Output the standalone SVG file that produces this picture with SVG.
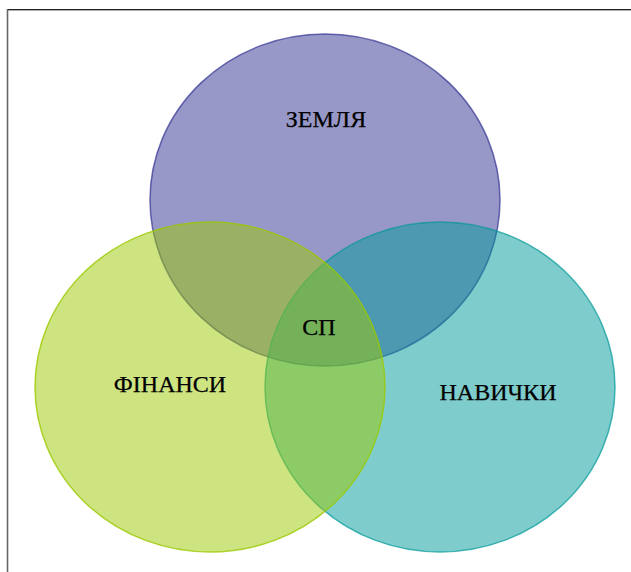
<svg xmlns="http://www.w3.org/2000/svg" width="631" height="572" viewBox="0 0 631 572">
<style>
.lbl{font-family:"Liberation Serif","Times New Roman",serif;font-size:24px;fill:#000;text-anchor:middle;stroke:#000;stroke-width:0.25}
</style>
<rect width="631" height="572" fill="#fff"/>
<g id="frame">
<line x1="7" y1="9.5" x2="631" y2="9.5" stroke="#222" stroke-width="1.2"/>
<line x1="7" y1="10.5" x2="631" y2="10.5" stroke="#999" stroke-width="0.8"/>
<line x1="7.5" y1="9" x2="7.5" y2="572" stroke="#666" stroke-width="1.6"/>
</g>
<g id="zemlia">
<ellipse cx="325" cy="200" rx="175" ry="166" fill="#313191" fill-opacity="0.5" stroke="#313191" stroke-opacity="0.7" stroke-width="1.5"/>
<text class="lbl" x="326" y="127">ЗЕМЛЯ</text>
</g>
<g id="navychky">
<ellipse cx="440" cy="387" rx="175" ry="165" fill="#009999" fill-opacity="0.5" stroke="#009999" stroke-opacity="0.7" stroke-width="1.5"/>
<text class="lbl" x="498" y="400">НАВИЧКИ</text>
</g>
<g id="finansy">
<ellipse cx="210" cy="387" rx="175" ry="165" fill="#9bc901" fill-opacity="0.5" stroke="#9bc901" stroke-opacity="0.8" stroke-width="1.5"/>
<text class="lbl" x="170" y="392">ФІНАНСИ</text>
</g>
<g id="sp">
<text class="lbl" x="319" y="335">СП</text>
</g>
<g id="connectors"></g>
</svg>
